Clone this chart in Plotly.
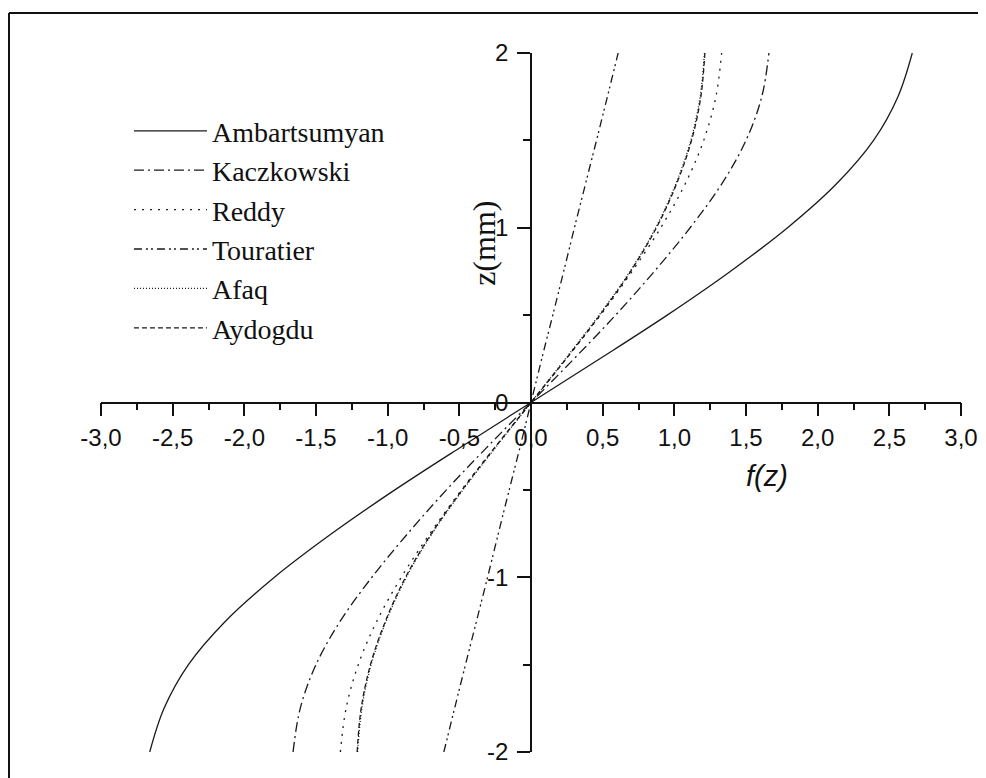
import plotly.graph_objects as go

z = [-2.0, -1.75, -1.5, -1.25, -1.0, -0.75, -0.5, -0.25, 0.0,
     0.25, 0.5, 0.75, 1.0, 1.25, 1.5, 1.75, 2.0]

ambartsumyan = [-2.66, -2.56, -2.39, -2.13, -1.79, -1.39, -0.95, -0.48, 0.0,
                0.48, 0.95, 1.39, 1.79, 2.13, 2.39, 2.56, 2.66]
kaczkowski = [-1.66, -1.61, -1.50, -1.33, -1.11, -0.86, -0.59, -0.30, 0.0,
              0.30, 0.59, 0.86, 1.11, 1.33, 1.50, 1.61, 1.66]
reddy = [-1.33, -1.29, -1.205, -1.075, -0.905, -0.705, -0.485, -0.245, 0.0,
         0.245, 0.485, 0.705, 0.905, 1.075, 1.205, 1.29, 1.33]
touratier = [-0.608, -0.533, -0.457, -0.38, -0.303, -0.228, -0.152, -0.075, 0.0,
             0.075, 0.152, 0.228, 0.303, 0.38, 0.457, 0.533, 0.608]
afaq = [-1.21, -1.18, -1.115, -1.01, -0.87, -0.69, -0.475, -0.24, 0.0,
        0.24, 0.475, 0.69, 0.87, 1.01, 1.115, 1.18, 1.21]
aydogdu = [-1.213, -1.185, -1.12, -1.015, -0.875, -0.695, -0.48, -0.245, 0.0,
           0.245, 0.48, 0.695, 0.875, 1.015, 1.12, 1.185, 1.213]

series_names = ["Ambartsumyan", "Kaczkowski", "Reddy", "Touratier", "Afaq", "Aydogdu"]
series_values = [ambartsumyan, kaczkowski, reddy, touratier, afaq, aydogdu]
series_dash = ["solid", "10px,4px,2px,4px", "2px,6px", "8px,4px,2px,3px,2px,4px", "1px,2px", "5px,3px"]

x_tickvals = [-3.0, -2.5, -2.0, -1.5, -1.0, -0.5, 0.0, 0.5, 1.0, 1.5, 2.0, 2.5, 3.0]
x_ticktext = ["-3,0", "-2,5", "-2,0", "-1,5", "-1,0", "-0,5", "0,0", "0,5", "1,0", "1,5", "2,0", "2,5", "3,0"]
y_tickvals = [-2, -1, 0, 1, 2]
y_ticktext = ["-2", "-1", "0", "1", "2"]

fig = go.Figure()
for name, vals, dash in zip(series_names, series_values, series_dash):
    fig.add_trace(go.Scatter(
        x=vals, y=z, mode="lines", name=name, legendgroup=name,
        line=dict(color="#1a1a1a", width=1.3, dash=dash, shape="spline", smoothing=1.0),
        cliponaxis=False,
    ))

axis_common = dict(
    showline=True, linecolor="#111", linewidth=1.6,
    ticks="outside", tickcolor="#111", tickwidth=1.6, ticklen=13,
    showgrid=False, zeroline=False, automargin=False,
    tickfont=dict(family="Liberation Sans, Arial, sans-serif", size=24, color="#111"),
    anchor="free", position=0.5,
)

fig.update_layout(
    width=986, height=778,
    paper_bgcolor="white", plot_bgcolor="white",
    margin=dict(l=93, r=33, t=45, b=34, autoexpand=False),
    xaxis=dict(range=[-3, 3], tickvals=x_tickvals, ticktext=x_ticktext, ticklabelstandoff=1,
               minor=dict(dtick=0.25, ticks="outside", ticklen=7, tickwidth=1.6, tickcolor="#111"),
               **axis_common),
    yaxis=dict(range=[-2, 2], tickvals=y_tickvals, ticktext=y_ticktext, ticklabelstandoff=4,
               minor=dict(dtick=0.5, ticks="outside", ticklen=7, tickwidth=1.6, tickcolor="#111"),
               **axis_common),
    showlegend=True,
    legend=dict(x=0.0325, y=0.924, xanchor="left", yanchor="top",
                font=dict(family="Liberation Serif, Times New Roman, serif", size=28, color="#111"),
                bgcolor="rgba(0,0,0,0)", itemwidth=73, tracegroupgap=0),
    annotations=[
        dict(text="z(mm)", x=-0.33, y=0.912, xref="x", yref="y", showarrow=False,
             textangle=-90, font=dict(family="Liberation Serif, Times New Roman, serif", size=32, color="#111")),
        dict(text="<i>f(z)</i>", x=1.645, y=-0.42, xref="x", yref="y", showarrow=False,
             font=dict(family="Liberation Sans, Arial, sans-serif", size=29, color="#111")),
    ],
    shapes=[
        dict(type="line", xref="paper", yref="paper", x0=-0.107, x1=1.05, y0=1.0572, y1=1.0572,
             line=dict(color="#111", width=2)),
        dict(type="line", xref="paper", yref="paper", x0=-0.107, x1=-0.107, y0=1.0572, y1=-0.06,
             line=dict(color="#111", width=2)),
    ],
)

fig.write_html("out.html")
